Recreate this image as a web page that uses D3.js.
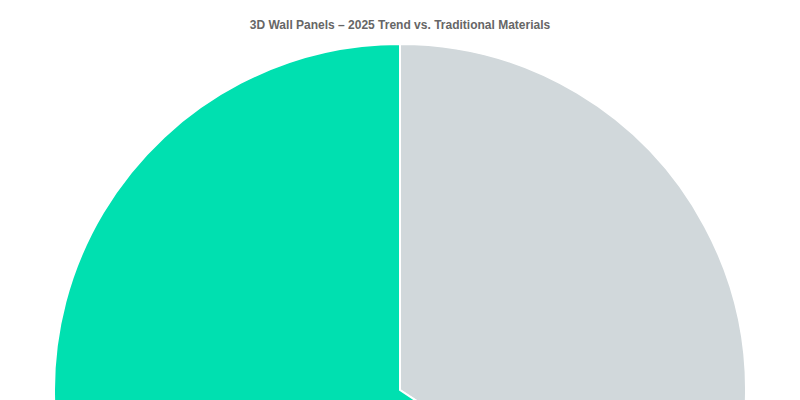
<!DOCTYPE html>
<html>
<head>
<meta charset="utf-8">
<script src="https://cdn.jsdelivr.net/npm/d3@7"></script>
<style>
  body { margin: 0; background: #fff; }
  svg { display: block; font-family: "Liberation Sans", Arial, sans-serif; }
</style>
</head>
<body>
<div id="chart"></div>
<script>
// chart data
const categories = ['Traditional Materials', '3D Wall Panels (2025 Trend)'];
const shares = [34.3, 65.7];
const colors = ['#d1d8db', '#00e0b0'];

const width = 800,
    height = 400,
    radius = 346,
    cx = 400,
    cy = 390;

const svg = d3.select('#chart')
    .append('svg')
    .attr('width', width)
    .attr('height', height);

// title
svg.append('text')
    .attr('x', width / 2)
    .attr('y', 29)
    .attr('text-anchor', 'middle')
    .style('font-size', '12px')
    .style('font-weight', 'bold')
    .style('fill', '#666666')
    .text('3D Wall Panels – 2025 Trend vs. Traditional Materials');

const colorScale = d3.scaleOrdinal()
    .domain(categories)
    .range(colors);

const pie = d3.pie()
    .sort(null)
    .value(d => d.value);

const arc = d3.arc()
    .innerRadius(0)
    .outerRadius(radius);

const data = categories.map((c, i) => ({ name: c, value: shares[i] }));

svg.append('g')
    .attr('transform', 'translate(' + cx + ',' + cy + ')')
    .selectAll('path')
    .data(pie(data))
    .enter().append('path')
    .attr('d', arc)
    .attr('fill', d => colorScale(d.data.name))
    .attr('stroke', '#fff')
    .attr('stroke-width', 2);
</script>
</body>
</html>
